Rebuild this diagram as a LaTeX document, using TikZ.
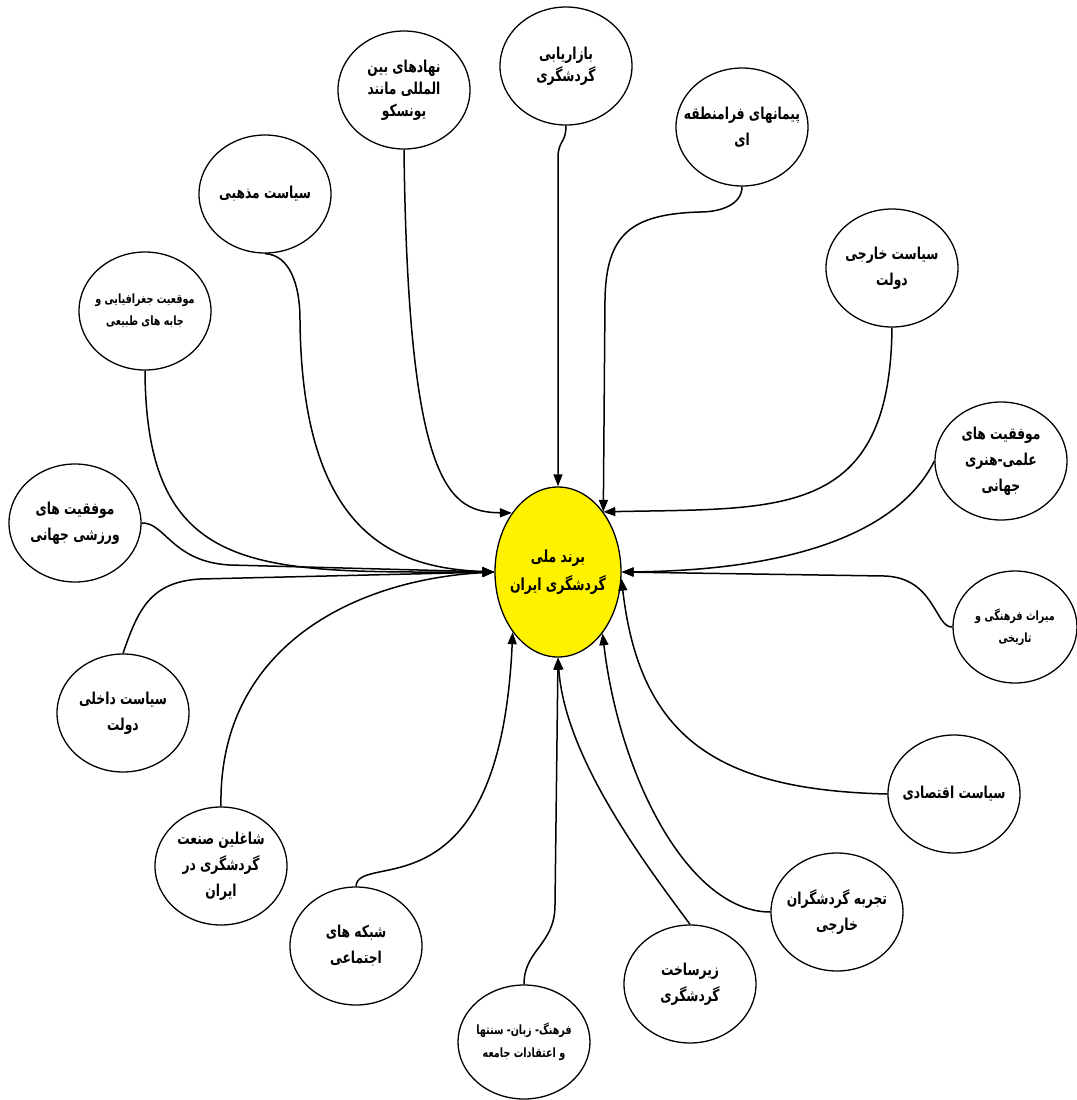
\documentclass[tikz,border=0pt]{standalone}
\usepackage{fontspec}
\usetikzlibrary{shapes.geometric,arrows.meta}
\newfontfamily\farsi[Script=Arabic,FakeStretch=0.75]{DejaVu Sans}
\TeXXeTstate=1
\newcommand{\fa}[1]{\beginR #1\endR}

\tikzset{
  factor/.style={ellipse,draw,line width=0.65pt,minimum width=66pt,minimum height=59pt,
    inner xsep=-4pt,inner ysep=0pt,align=center,font=\farsi\bfseries\fontsize{8.2}{13}\selectfont},
  tightfactor/.style={factor,font=\farsi\bfseries\fontsize{8.2}{11}\selectfont},
  smallfactor/.style={factor,inner xsep=-8pt,font=\farsi\bfseries\fontsize{6.4}{11.5}\selectfont},
  brandnode/.style={factor,fill=yellow,minimum width=63pt,minimum height=85pt,
    font=\farsi\bfseries\fontsize{8.3}{14}\selectfont},
  link/.style={line width=0.75pt,-{Triangle[length=6pt,width=4.5pt]}},
}

\begin{document}
\begin{tikzpicture}[x=0.5pt,y=-0.5pt]
    \fill[white] (0,0) rectangle (1077,1100);
    \useasboundingbox (0,0) rectangle (1077,1100);

    % the brand in the middle
    \node[brandnode] (brand) at (558,572) {\fa{برند ملی}\\\fa{گردشگری ایران}};

    % factors round it
    \node[tightfactor] (bzr) at (566,66) {\fa{بازاریابی}\\\fa{گردشگری}};
    \node[tightfactor] (nhd) at (404,90) {\fa{نهادهای بین}\\\fa{المللی مانند}\\\fa{یونسکو}};
    \node[factor,inner xsep=-7pt] (pym) at (742,127) {\fa{پیمانهای فرامنطقه}\\\fa{ای}};
    \node[factor] (mzh) at (265,194) {\fa{سیاست مذهبی}};
    \node[factor] (khj) at (892,268) {\fa{سیاست خارجی}\\\fa{دولت}};
    \node[smallfactor,font=\farsi\bfseries\fontsize{6.4}{11}\selectfont] (jgr) at (145,311) {\fa{موقعیت جغرافیایی و}\\\fa{جابه های طبیعی}};
    \node[factor] (elm) at (1001,461) {\fa{موفقیت های}\\\fa{علمی-هنری}\\\fa{جهانی}};
    \node[factor] (vrz) at (75,523) {\fa{موفقیت های}\\\fa{ورزشی جهانی}};
    \node[smallfactor,minimum width=62pt,minimum height=56pt,font=\farsi\bfseries\fontsize{6.4}{11}\selectfont] (mrt) at (1015,627) {\fa{میراث فرهنگی و}\\\fa{تاریخی}};
    \node[factor] (dkh) at (123,713) {\fa{سیاست داخلی}\\\fa{دولت}};
    \node[factor] (eqt) at (954,794) {\fa{سیاست اقتصادی}};
    \node[factor] (shg) at (221,866) {\fa{شاغلین صنعت}\\\fa{گردشگری در}\\\fa{ایران}};
    \node[factor] (tjr) at (837,912) {\fa{تجربه گردشگران}\\\fa{خارجی}};
    \node[factor] (shb) at (356,946) {\fa{شبکه های}\\\fa{اجتماعی}};
    \node[factor] (zir) at (690,984) {\fa{زیرساخت}\\\fa{گردشگری}};
    \node[smallfactor,minimum height=57pt] (frh) at (524,1042) {\fa{فرهنگ- زبان- سنتها}\\\fa{و اعتقادات جامعه}};

    % links from above
    \draw[link] (bzr.south) .. controls +(0,18) and +(0,-18) .. (558,158) -- (brand.north);
    \draw[link] (nhd.south) .. controls (408,490) and (450,512) .. (brand.128);
    \draw[link] (pym.south) .. controls (742,205) and (720,212) .. (700,212)
        .. controls (630,214) and (606,235) .. (605,300) -- (brand.53);
    \draw[link] (khj.south) .. controls (890,520) and (780,508) .. (brand.53);
    % links from the right
    \draw[link] (elm.west) .. controls (905,520) and (820,570) .. (brand.east);
    \draw[link] (mrt.west) .. controls (935,628) and (935,578) .. (885,576) -- (brand.east);
    \draw[link] (eqt.west) .. controls (720,790) and (640,740) .. (brand.-6);
    % links from below
    \draw[link] (tjr.west) .. controls (690,912) and (620,780) .. (brand.-54);
    \draw[link] (zir.north) .. controls (650,870) and (565,760) .. (brand.south);
    \draw[link] (frh.north) .. controls +(0,-35) and +(0,40) .. (555,905) -- (brand.south);
    \draw[link] (shb.north) .. controls (358,850) and (500,920) .. (brand.-127);
    % links from the left
    \draw[link] (shg.north) .. controls (218,650) and (350,580) .. (brand.west);
    \draw[link] (dkh.north) .. controls (138,610) and (150,582) .. (200,579) -- (brand.west);
    \draw[link] (vrz.east) .. controls (165,522) and (172,562) .. (230,565) -- (brand.west);
    \draw[link] (jgr.south) .. controls (146,580) and (260,572) .. (brand.west);
    \draw[link] (mzh.south) .. controls (290,255) and (300,285) .. (300,320)
        .. controls (302,540) and (400,568) .. (brand.west);
\end{tikzpicture}
\end{document}
